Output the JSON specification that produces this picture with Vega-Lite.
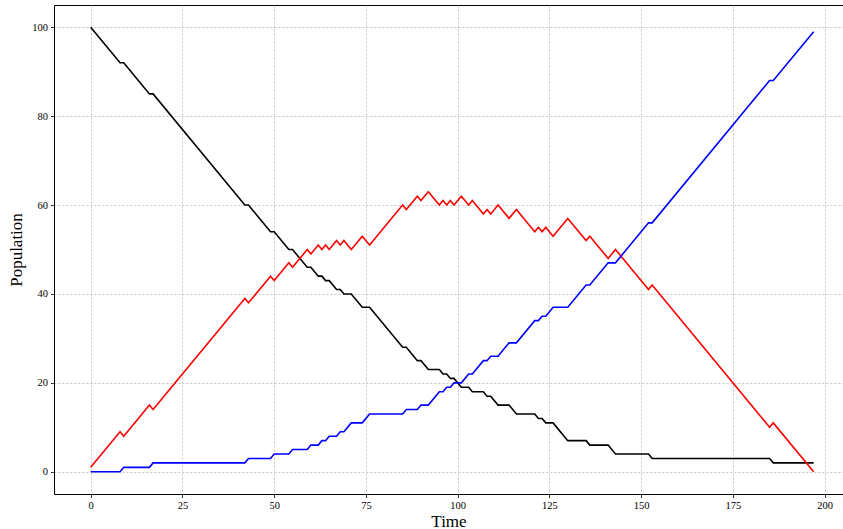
{
  "$schema": "https://vega.github.io/schema/vega-lite/v6.json",
  "width": 789,
  "height": 489,
  "autosize": {"type": "none"},
  "padding": {"left": 54, "top": 5, "right": 0, "bottom": 35},
  "background": "white",
  "config": {
    "view": {"stroke": "black", "strokeWidth": 1},
    "font": "Liberation Serif",
    "axis": {
      "grid": true,
      "gridDash": [2, 2],
      "gridColor": "#b0b0b0",
      "gridWidth": 0.7,
      "domain": false,
      "tickColor": "black",
      "tickSize": 3.5,
      "tickWidth": 0.8,
      "labelFontSize": 10.5,
      "labelColor": "black",
      "labelPadding": 3,
      "titleFontSize": 17,
      "titleFontWeight": "normal",
      "titleColor": "black",
      "labelFont": "Liberation Serif",
      "titleFont": "Liberation Serif"
    }
  },
  "data": {
    "values": [
      {"t": 0, "S": 100, "I": 1, "R": 0},
      {"t": 8, "S": 92, "I": 9, "R": 0},
      {"t": 9, "S": 92, "I": 8, "R": 1},
      {"t": 16, "S": 85, "I": 15, "R": 1},
      {"t": 17, "S": 85, "I": 14, "R": 2},
      {"t": 42, "S": 60, "I": 39, "R": 2},
      {"t": 43, "S": 60, "I": 38, "R": 3},
      {"t": 49, "S": 54, "I": 44, "R": 3},
      {"t": 50, "S": 54, "I": 43, "R": 4},
      {"t": 54, "S": 50, "I": 47, "R": 4},
      {"t": 55, "S": 50, "I": 46, "R": 5},
      {"t": 59, "S": 46, "I": 50, "R": 5},
      {"t": 60, "S": 46, "I": 49, "R": 6},
      {"t": 62, "S": 44, "I": 51, "R": 6},
      {"t": 63, "S": 44, "I": 50, "R": 7},
      {"t": 64, "S": 43, "I": 51, "R": 7},
      {"t": 65, "S": 43, "I": 50, "R": 8},
      {"t": 67, "S": 41, "I": 52, "R": 8},
      {"t": 68, "S": 41, "I": 51, "R": 9},
      {"t": 69, "S": 40, "I": 52, "R": 9},
      {"t": 71, "S": 40, "I": 50, "R": 11},
      {"t": 74, "S": 37, "I": 53, "R": 11},
      {"t": 76, "S": 37, "I": 51, "R": 13},
      {"t": 85, "S": 28, "I": 60, "R": 13},
      {"t": 86, "S": 28, "I": 59, "R": 14},
      {"t": 89, "S": 25, "I": 62, "R": 14},
      {"t": 90, "S": 25, "I": 61, "R": 15},
      {"t": 92, "S": 23, "I": 63, "R": 15},
      {"t": 95, "S": 23, "I": 60, "R": 18},
      {"t": 96, "S": 22, "I": 61, "R": 18},
      {"t": 97, "S": 22, "I": 60, "R": 19},
      {"t": 98, "S": 21, "I": 61, "R": 19},
      {"t": 99, "S": 21, "I": 60, "R": 20},
      {"t": 101, "S": 19, "I": 62, "R": 20},
      {"t": 103, "S": 19, "I": 60, "R": 22},
      {"t": 104, "S": 18, "I": 61, "R": 22},
      {"t": 107, "S": 18, "I": 58, "R": 25},
      {"t": 108, "S": 17, "I": 59, "R": 25},
      {"t": 109, "S": 17, "I": 58, "R": 26},
      {"t": 111, "S": 15, "I": 60, "R": 26},
      {"t": 114, "S": 15, "I": 57, "R": 29},
      {"t": 116, "S": 13, "I": 59, "R": 29},
      {"t": 121, "S": 13, "I": 54, "R": 34},
      {"t": 122, "S": 12, "I": 55, "R": 34},
      {"t": 123, "S": 12, "I": 54, "R": 35},
      {"t": 124, "S": 11, "I": 55, "R": 35},
      {"t": 126, "S": 11, "I": 53, "R": 37},
      {"t": 130, "S": 7, "I": 57, "R": 37},
      {"t": 135, "S": 7, "I": 52, "R": 42},
      {"t": 136, "S": 6, "I": 53, "R": 42},
      {"t": 141, "S": 6, "I": 48, "R": 47},
      {"t": 143, "S": 4, "I": 50, "R": 47},
      {"t": 152, "S": 4, "I": 41, "R": 56},
      {"t": 153, "S": 3, "I": 42, "R": 56},
      {"t": 185, "S": 3, "I": 10, "R": 88},
      {"t": 186, "S": 2, "I": 11, "R": 88},
      {"t": 197, "S": 2, "I": 0, "R": 99}
    ]
  },
  "transform": [{"fold": ["S", "I", "R"], "as": ["series", "value"]}],
  "encoding": {
    "x": {
      "field": "t",
      "type": "quantitative",
      "scale": {"domain": [-10, 205], "nice": false, "zero": false},
      "axis": {"values": [0, 25, 50, 75, 100, 125, 150, 175, 200], "title": "Time", "titlePadding": 2}
    },
    "y": {
      "field": "value",
      "type": "quantitative",
      "scale": {"domain": [-5, 105], "nice": false, "zero": false},
      "axis": {"values": [0, 20, 40, 60, 80, 100], "title": "Population", "titlePadding": 6}
    },
    "color": {
      "field": "series",
      "type": "nominal",
      "scale": {"domain": ["S", "I", "R"], "range": ["#000000", "#ff0000", "#0000ff"]},
      "legend": null
    }
  },
  "layer": [
    {"transform": [{"filter": "datum.series === 'S'"}], "mark": {"type": "line", "strokeWidth": 1.6}},
    {"transform": [{"filter": "datum.series === 'I'"}], "mark": {"type": "line", "strokeWidth": 1.6}},
    {"transform": [{"filter": "datum.series === 'R'"}], "mark": {"type": "line", "strokeWidth": 1.6}}
  ]
}
